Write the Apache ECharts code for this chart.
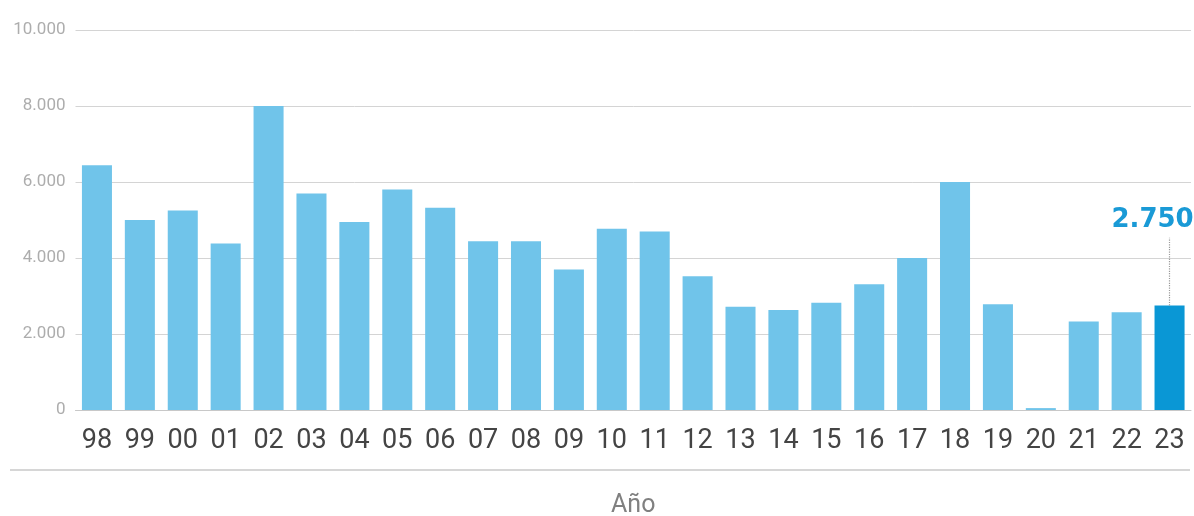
<!DOCTYPE html>
<html>
<head>
<meta charset="utf-8">
<script src="https://cdn.jsdelivr.net/npm/echarts@6/dist/echarts.min.js"></script>
<style>
html,body{margin:0;padding:0;background:#fff;}
#chart{width:1194px;height:516px;}
</style>
</head>
<body>
<div id="chart"></div>
<script>
const categories = ['98','99','00','01','02','03','04','05','06','07','08','09','10','11','12','13','14','15','16','17','18','19','20','21','22','23'];
const values = [6440,5000,5250,4380,8000,5700,4950,5800,5320,4440,4440,3700,4770,4700,3520,2720,2630,2820,3310,4000,6000,2780,50,2330,2570,2750];
const yTicks = [0,2000,4000,6000,8000,10000];
const highlightIndex = 25;
const highlightLabel = '2.750';
const leaderTopValue = 4530;

const chart = echarts.init(document.getElementById('chart'), null, {renderer:'canvas'});

const fmt = v => String(v).replace(/\B(?=(\d{3})+(?!\d))/g, '.');

const barData = values.map((v, i) => i === highlightIndex
  ? {value: v, itemStyle: {color: '#0A97D5'}}
  : {value: v});

chart.setOption({
  animation: false,
  backgroundColor: '#ffffff',
  textStyle: {fontFamily: 'Roboto, sans-serif'},
  grid: {left: 75.5, right: 3, top: 30, bottom: 106, containLabel: false, outerBoundsMode: 'none'},
  xAxis: {
    type: 'category',
    data: categories,
    axisTick: {show: false},
    axisLine: {show: true, lineStyle: {color: '#c8c8c8', width: 1}},
    axisLabel: {
      color: '#444444',
      fontSize: 27,
      margin: 18,
      fontFamily: 'Roboto, sans-serif'
    },
    name: 'Año',
    nameLocation: 'middle',
    nameGap: 83,
    nameTextStyle: {color: '#808080', fontSize: 25, fontFamily: 'Roboto, sans-serif'}
  },
  yAxis: {
    type: 'value',
    min: yTicks[0],
    max: yTicks[yTicks.length - 1],
    interval: yTicks[1] - yTicks[0],
    axisLine: {show: false},
    axisTick: {show: false},
    splitLine: {show: true, lineStyle: {color: '#d4d4d4', width: 1}},
    axisLabel: {
      color: '#adadad',
      fontSize: 17,
      margin: 10,
      fontFamily: 'Roboto, sans-serif',
      formatter: v => fmt(v)
    }
  },
  series: [{
    type: 'bar',
    data: barData,
    barWidth: '70%',
    itemStyle: {color: '#70C4EA'},
    markLine: {
      silent: true,
      symbol: ['none', 'none'],
      lineStyle: {color: '#9a9a9a', type: 'dotted', width: 1.2},
      label: {
        show: true,
        position: 'end',
        formatter: highlightLabel,
        color: '#1A9AD6',
        fontSize: 26,
        fontWeight: 'bold',
        fontFamily: '"DejaVu Sans", sans-serif',
        distance: 5,
        offset: [-17, 0]
      },
      data: [[
        {coord: [categories[highlightIndex], values[highlightIndex]]},
        {coord: [categories[highlightIndex], leaderTopValue]}
      ]]
    }
  }],
  graphic: [{
    type: 'line',
    shape: {x1: 10, y1: 470, x2: 1190, y2: 470},
    style: {stroke: '#c8c8c8', lineWidth: 1.5}
  }]
});
</script>
</body>
</html>
